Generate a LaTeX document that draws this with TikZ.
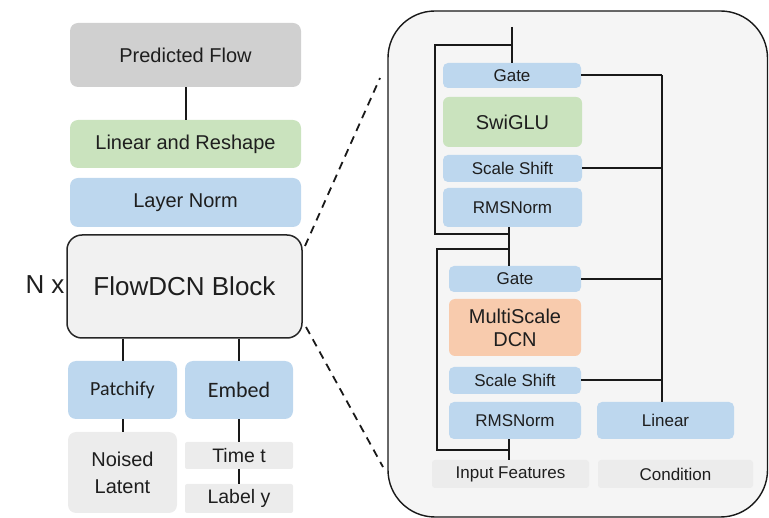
\documentclass[tikz,border=0pt]{standalone}
\usepackage{fontspec}
\setmainfont{Liberation Sans}
\newfontfamily\calibfont{Carlito}
\usetikzlibrary{calc}

\definecolor{boxblue}{RGB}{189,215,238}
\definecolor{boxgreen}{RGB}{202,227,190}
\definecolor{boxorange}{RGB}{248,203,173}
\definecolor{boxgray}{RGB}{208,208,208}
\definecolor{lightbox}{RGB}{236,236,236}
\definecolor{panelfill}{RGB}{245,245,245}
\definecolor{blockfill}{RGB}{241,241,241}
\definecolor{inktext}{RGB}{30,30,30}

\tikzset{
  box/.style={rectangle, rounded corners=8pt, inner sep=0pt, align=center,
              text=inktext, font=\fontsize{20}{24}\selectfont},
  smallbox/.style={box, rounded corners=5pt, font=\fontsize{17}{20}\selectfont},
  wire/.style={line width=2pt, black!90},
  zoomline/.style={line width=1.8pt, dash pattern=on 8pt off 6pt, black!90},
}

\begin{document}
\begin{tikzpicture}[x=1pt, y=-1pt]
\useasboundingbox (0,0) rectangle (769,518);

% ---------------- main network column ----------------
\node[box, fill=boxgray, minimum width=231pt, minimum height=64pt] (pred) at (185.5,55) {Predicted Flow};
\node[box, fill=boxgreen, minimum width=231pt, minimum height=48pt] (lin) at (185.5,144) {Linear and Reshape};
\node[box, fill=boxblue, minimum width=231pt, minimum height=49pt] (ln) at (185.5,202.5) {Layer Norm};
\node[box, fill=blockfill, draw=black!85, line width=1.5pt, rounded corners=15pt,
      minimum width=235pt, minimum height=103pt, font=\fontsize{26}{30}\selectfont] (flow) at (184.5,286.5) {FlowDCN Block};
\node[text=inktext, font=\fontsize{26}{30}\selectfont] (nx) at (45,285) {N x};

\node[box, fill=boxblue, minimum width=109pt, minimum height=58pt, font=\calibfont\fontsize{20}{24}\selectfont] (patch) at (122.5,390) {Patchify};
\node[box, fill=boxblue, minimum width=108pt, minimum height=58pt, font=\calibfont\fontsize{22}{26}\selectfont] (embed) at (239,390) {Embed};
\node[box, fill=lightbox, minimum width=109pt, minimum height=81pt, font=\fontsize{20}{27}\selectfont] (noised) at (122.5,472.5) {Noised\\Latent};
\node[box, rounded corners=2pt, fill=lightbox, minimum width=108pt, minimum height=27pt, font=\fontsize{19.5}{23}\selectfont] (timet) at (239,455.5) {Time t};
\node[box, rounded corners=2pt, fill=lightbox, minimum width=108pt, minimum height=29pt, font=\fontsize{19.5}{23}\selectfont] (labely) at (239,498.5) {Label y};

\draw[wire] (pred) -- (lin);
\draw[wire] (patch.north |- flow.south) -- (patch.north);
\draw[wire] (embed.north |- flow.south) -- (embed.north);
\draw[wire] (patch) -- (noised);
\draw[wire] (embed) -- (timet);
\draw[wire] (timet) -- (labely);

% ---------------- zoom guides ----------------
\coordinate (zs1) at (305,246);
\coordinate (ze1) at (380,78);
\coordinate (zs2) at (306,327);
\coordinate (ze2) at (383,467);
\draw[zoomline] (zs1) -- (ze1);
\draw[zoomline] (zs2) -- (ze2);

% ---------------- block detail panel ----------------
\draw[line width=1.4pt, black!90, fill=panelfill, rounded corners=47pt] (388,11) rectangle (767.5,517);

\node[smallbox, fill=boxblue, minimum width=138pt, minimum height=25pt] (gate1) at (512,75.5) {Gate};
\node[box, rounded corners=6pt, fill=boxgreen, minimum width=139pt, minimum height=50pt] (swiglu) at (512.5,122) {SwiGLU};
\node[smallbox, fill=boxblue, minimum width=139pt, minimum height=27pt] (ss1) at (512.5,168.5) {Scale Shift};
\node[smallbox, fill=boxblue, minimum width=139pt, minimum height=39pt] (rms1) at (512.5,207.5) {RMSNorm};

\node[smallbox, fill=boxblue, minimum width=132pt, minimum height=26pt] (gate2) at (515,279) {Gate};
\node[box, rounded corners=6pt, fill=boxorange, minimum width=132pt, minimum height=57pt, font=\fontsize{20}{23}\selectfont] (dcn) at (515,327.5) {MultiScale\\DCN};
\node[smallbox, fill=boxblue, minimum width=132pt, minimum height=27pt] (ss2) at (515,380.5) {Scale Shift};
\node[smallbox, fill=boxblue, minimum width=132pt, minimum height=37pt] (rms2) at (515,420.5) {RMSNorm};
\node[smallbox, fill=boxblue, minimum width=137pt, minimum height=37pt] (linear) at (665.5,420.5) {Linear};

\node[smallbox, rounded corners=3pt, fill=lightbox, minimum width=157pt, minimum height=28pt] (inp) at (510.5,474) {Input Features};
\node[smallbox, rounded corners=3pt, fill=lightbox, minimum width=155pt, minimum height=28pt] (cond) at (675.5,474) {Condition};

% residual stream
\coordinate (top) at (512,27);
\coordinate (j1) at (512,45);
\coordinate (j2) at (509,234);
\coordinate (j3) at (509,249);
\coordinate (j4) at (509,450);
\draw[wire] (top) -- (top |- gate1.north);
\draw[wire] (j1) -- ++(-77,0) |- (j2);
\draw[wire] (rms1.south -| j2) -- (gate2.north -| j2);
\draw[wire] (j3) -- ++(-72,0) |- (j4);
\draw[wire] (rms2.south -| j4) -- (inp.north -| j4);

% conditioning bus
\coordinate (bus) at (662,75);
\draw[wire] (gate1.east) -- (gate1.east -| bus);
\draw[wire] (gate1.east -| bus) -- (linear.north -| bus);
\draw[wire] (ss1.east) -- (ss1.east -| bus);
\draw[wire] (gate2.east) -- (gate2.east -| bus);
\draw[wire] (ss2.east) -- (ss2.east -| bus);
\end{tikzpicture}
\end{document}
